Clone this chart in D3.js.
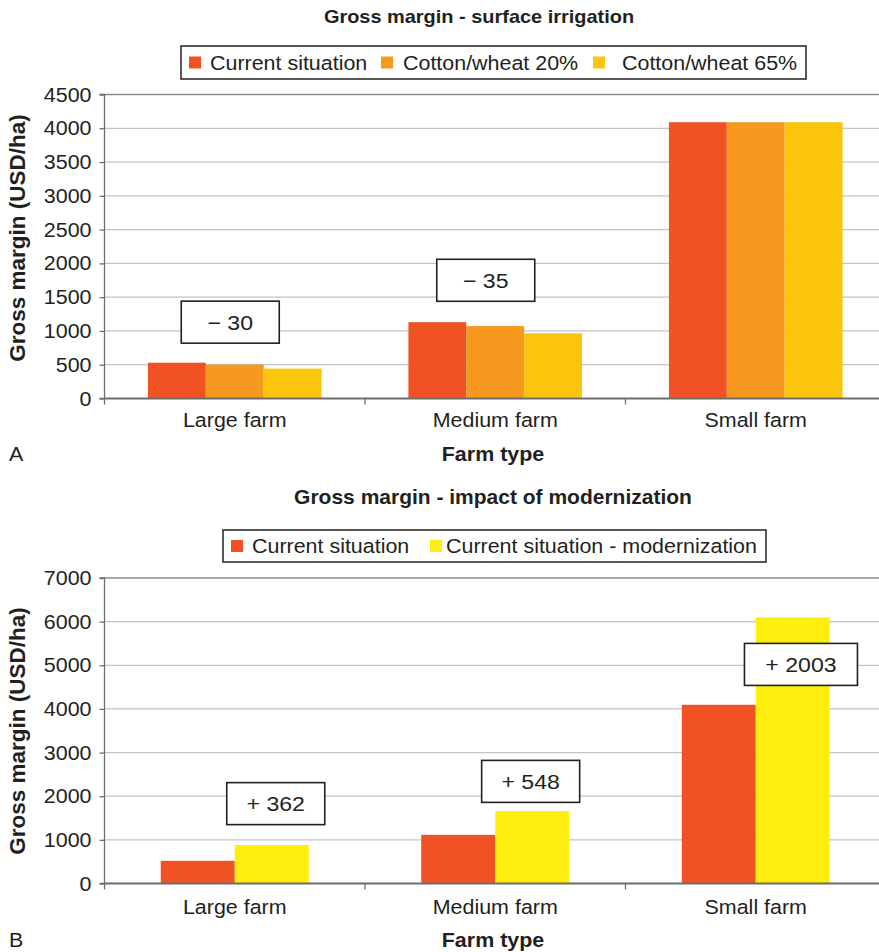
<!DOCTYPE html>
<html>
<head>
<meta charset="utf-8">
<script src="https://cdn.jsdelivr.net/npm/d3@7"></script>
<style>
  body { margin: 0; background: #fff; }
  svg { display: block; }
  text { font-family: "Liberation Sans", Arial, Helvetica, sans-serif; fill: #231f20; }
</style>
</head>
<body>
<svg id="chart" width="879" height="952"></svg>
<script>
// ---- data ----
const farmTypes = ["Large farm", "Medium farm", "Small farm"];

// Panel A: gross margin under surface irrigation (USD/ha)
const seriesA = ["Current situation", "Cotton/wheat 20%", "Cotton/wheat 65%"];
const currentA = [530, 1130, 4090];
const cotton20A = [502, 1072, 4090];
const cotton65A = [443, 964, 4090];
const ticksA = [0, 500, 1000, 1500, 2000, 2500, 3000, 3500, 4000, 4500];
const notesA = ["− 30", "− 35"];
const noteFarmsA = ["Large farm", "Medium farm"];

// Panel B: gross margin before / after modernization (USD/ha)
const seriesB = ["Current situation", "Current situation - modernization"];
const currentB = [520, 1115, 4095];
const modernB = [882, 1663, 6098];
const ticksB = [0, 1000, 2000, 3000, 4000, 5000, 6000, 7000];
const notesB = ["+ 362", "+ 548", "+ 2003"];
const noteFarmsB = ["Large farm", "Medium farm", "Small farm"];

// ---- styling / layout ----
const colors = {
  "Current situation": "#f05223",
  "Cotton/wheat 20%": "#f6991e",
  "Cotton/wheat 65%": "#fcc50d",
  "Current situation - modernization": "#feee10"
};
const SX = 1.1;           // horizontal stretch of the lettering
const FS = 19.5;          // base font size

const svg = d3.select("#chart");

function label(g, x, y, str, o = {}) {
  return g.append("text")
    .attr("transform", `translate(${x},${y})` + (o.rotate ? ` rotate(${o.rotate})` : "") + ` scale(${o.sx || SX},1)`)
    .attr("text-anchor", o.anchor || "start")
    .attr("font-size", o.size || FS)
    .attr("font-weight", o.bold ? "bold" : "normal")
    .text(str);
}

function panel(cfg) {
  const g = svg.append("g");
  const x0 = d3.scaleBand().domain(farmTypes).range([cfg.left, cfg.right]).padding(0);
  const x1 = d3.scaleBand().domain(cfg.series).range([0, x0.bandwidth()])
    .paddingInner(0).paddingOuter(cfg.groupPad);
  const y = d3.scaleLinear().domain([0, d3.max(cfg.ticks)]).range([cfg.bottom, cfg.top]);

  // grid
  g.append("g").selectAll("line").data(cfg.ticks.slice(1, -1)).join("line")
    .attr("x1", cfg.left).attr("x2", cfg.right)
    .attr("y1", d => y(d)).attr("y2", d => y(d))
    .attr("stroke", "#c4c4c4").attr("stroke-width", 1.3);
  g.append("line")
    .attr("x1", cfg.left).attr("x2", cfg.right)
    .attr("y1", y(d3.max(cfg.ticks))).attr("y2", y(d3.max(cfg.ticks)))
    .attr("stroke", "#8a8a8a").attr("stroke-width", 1.3);

  // bars
  const rows = farmTypes.map((f, i) => ({ farm: f, vals: cfg.series.map((s, j) => ({ s, v: cfg.values[j][i] })) }));
  g.append("g").selectAll("g").data(rows).join("g")
    .attr("transform", d => `translate(${x0(d.farm)},0)`)
    .selectAll("rect").data(d => d.vals).join("rect")
    .attr("x", d => x1(d.s)).attr("width", x1.bandwidth())
    .attr("y", d => y(d.v)).attr("height", d => y(0) - y(d.v))
    .attr("fill", d => colors[d.s]);

  // y axis
  const ya = d3.axisLeft(y).tickValues(cfg.ticks).tickSize(5).tickFormat("");
  const yg = g.append("g").attr("transform", `translate(${cfg.left},0)`).call(ya);
  yg.selectAll("path,line").attr("stroke", "#6d6d6d").attr("stroke-width", 1.3);
  yg.select(".domain").attr("d", `M-5,${cfg.bottom}H0V${cfg.top}H-5`);
  cfg.ticks.forEach(t => label(g, cfg.left - 13, y(t) + 7, String(t), { anchor: "end" }));

  // x axis
  g.append("line").attr("x1", cfg.left).attr("x2", cfg.right)
    .attr("y1", y(0)).attr("y2", y(0)).attr("stroke", "#6d6d6d").attr("stroke-width", 2);
  const bounds = farmTypes.map(f => x0(f)).concat([cfg.right]);
  g.append("g").selectAll("line").data(bounds).join("line")
    .attr("x1", d => d).attr("x2", d => d)
    .attr("y1", y(0)).attr("y2", y(0) + 6)
    .attr("stroke", "#6d6d6d").attr("stroke-width", 1.3);
  farmTypes.forEach(f => label(g, x0(f) + x0.bandwidth() / 2, cfg.catY, f, { anchor: "middle" }));

  // axis titles
  label(g, cfg.xTitleX, cfg.xTitleY, "Farm type", { anchor: "middle", bold: true });
  label(g, cfg.yTitleX, cfg.yTitleY, "Gross margin (USD/ha)",
    { anchor: "middle", bold: true, rotate: -90, sx: 1.0, size: 22.5 });
  label(g, 9, cfg.xTitleY, cfg.tag, {});

  // chart title
  label(g, cfg.titleX, cfg.titleY, cfg.title, { anchor: "middle", bold: true, sx: 1.05, size: cfg.titleSize });

  // legend
  const lg = g.append("g");
  lg.append("rect").attr("x", cfg.legend.x).attr("y", cfg.legend.y)
    .attr("width", cfg.legend.w).attr("height", cfg.legend.h)
    .attr("fill", "#fff").attr("stroke", "#231f20").attr("stroke-width", 1.5);
  cfg.series.forEach((s, i) => {
    const sx = cfg.legend.items[i];
    lg.append("rect").attr("x", sx).attr("y", cfg.legend.y + cfg.legend.h / 2 - 6)
      .attr("width", 12).attr("height", 12).attr("fill", colors[s]);
    label(lg, cfg.legend.text[i], cfg.legend.y + cfg.legend.h / 2 + 7, s, {});
  });

  // change annotations
  cfg.notes.forEach((n, i) => {
    const cx = x0(cfg.noteFarms[i]) + x0.bandwidth() / 2 + cfg.noteDx[i];
    const cy = y(cfg.noteAt[i]);
    const w = cfg.noteW[i], h = 42;
    g.append("rect").attr("x", cx - w / 2).attr("y", cy - h / 2).attr("width", w).attr("height", h)
      .attr("fill", "#fff").attr("stroke", "#231f20").attr("stroke-width", 1.6);
    label(g, cx, cy + 7.5, n, { anchor: "middle", size: 21 });
  });
}

panel({
  series: seriesA, values: [currentA, cotton20A, cotton65A], ticks: ticksA,
  left: 104.5, right: 886, top: 94.5, bottom: 398.5, groupPad: 0.75,
  catY: 427, xTitleX: 493, xTitleY: 461, yTitleX: 25, yTitleY: 238, tag: "A",
  title: "Gross margin - surface irrigation", titleX: 479, titleY: 23, titleSize: 19,
  legend: { x: 181, y: 46, w: 625, h: 33, items: [189, 381, 593], text: [210, 403, 622] },
  notes: notesA, noteFarms: noteFarmsA, noteDx: [-4.5, -9.5], noteAt: [1130, 1750], noteW: [98, 98]
});

panel({
  series: seriesB, values: [currentB, modernB], ticks: ticksB,
  left: 104.5, right: 886, top: 578, bottom: 883.5, groupPad: 0.76,
  catY: 914, xTitleX: 493, xTitleY: 947, yTitleX: 25, yTitleY: 731, tag: "B",
  title: "Gross margin - impact of modernization", titleX: 493, titleY: 504, titleSize: 20,
  legend: { x: 223, y: 530, w: 543, h: 32, items: [231, 430], text: [252, 446] },
  notes: notesB, noteFarms: noteFarmsB, noteDx: [41, 35.4, 45.2], noteAt: [1830, 2340, 5020], noteW: [98, 98, 113]
});
</script>
</body>
</html>
